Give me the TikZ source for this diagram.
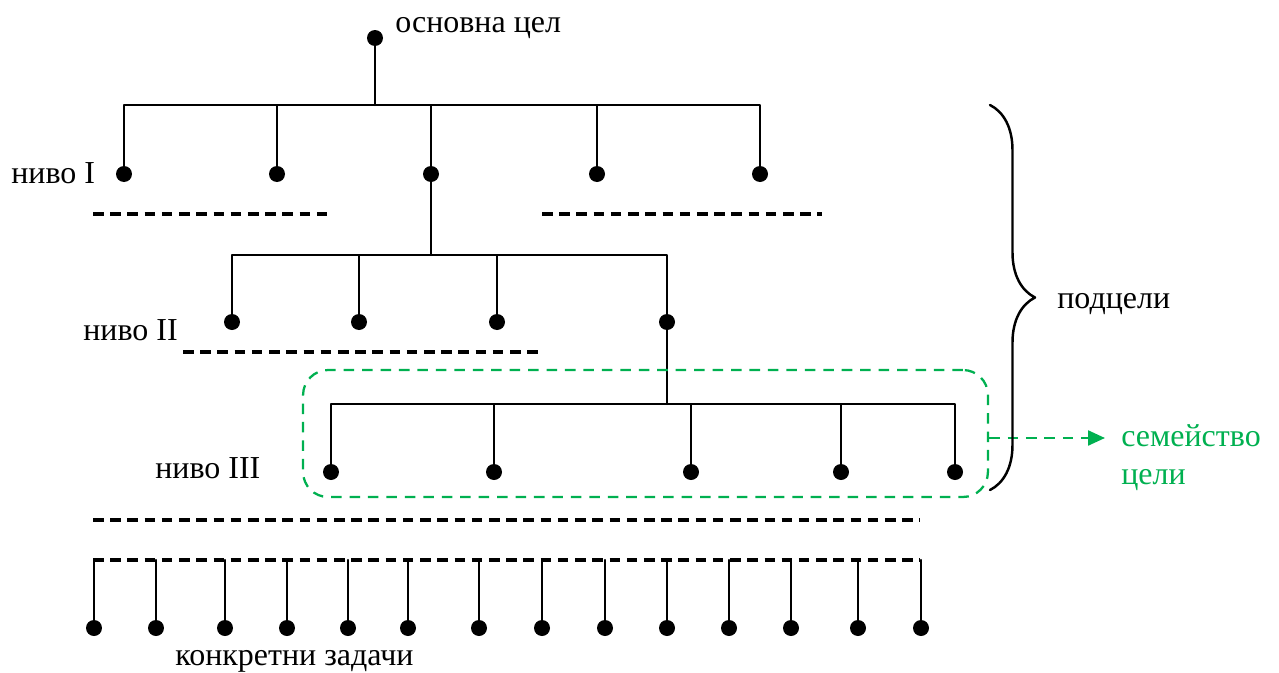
\documentclass[tikz,border=0pt]{standalone}
\usepackage{fontspec}
\setmainfont{Liberation Serif}
\usepackage{tikz}
\usetikzlibrary{arrows.meta,decorations.pathreplacing}
\definecolor{famgreen}{RGB}{0,176,80}

\begin{document}
\begin{tikzpicture}[line cap=round,line join=round,>={Triangle[length=0.34cm,width=0.3cm]},x=0.02cm,y=-0.02cm,
        goal/.style={circle,fill=black,inner sep=0pt,minimum size=0.32cm},
        tree/.style={line width=1.4pt},
        sep/.style={line width=1.9pt,line cap=butt,dash pattern=on 6pt off 3.8pt},
        famline/.style={famgreen,line width=1.3pt,line cap=butt,dash pattern=on 6pt off 4.5pt},
        lbl/.style={font=\fontsize{18.2}{21.6}\selectfont,inner sep=0pt,anchor=base west}]
        \useasboundingbox (0,0) rectangle (1279,673);
        % main goal
        \node[goal] (r) at (375,38) {};
        \node[lbl] (rtxt) at (395,32) {основна цел};
        \coordinate (b1) at (375,105);
        % level I
        \node[goal] (a1) at (124,174) {};
        \node[goal] (a2) at (277,174) {};
        \node[goal] (a3) at (431,174) {};
        \node[goal] (a4) at (597,174) {};
        \node[goal] (a5) at (760,174) {};
        \node[lbl] (lvl1) at (11,183) {ниво I};
        \draw [tree] (r) -- (b1);
        \draw [tree] (a1) |- (b1);
        \draw [tree] (a2) |- (b1);
        \draw [tree] (a3) |- (b1);
        \draw [tree] (a4) |- (b1);
        \draw [tree] (a5) |- (b1);
        \draw [sep] (93,214)-- (330,214);
        \draw [sep] (542,214)-- (822,214);
        % level II
        \coordinate (b2) at (431,255);
        \node[goal] (c1) at (232,322) {};
        \node[goal] (c2) at (359,322) {};
        \node[goal] (c3) at (497,322) {};
        \node[goal] (c4) at (667,322) {};
        \node[lbl] (lvl2) at (83,340) {ниво II};
        \draw [tree] (a3) -- (b2);
        \draw [tree] (c1) |- (b2);
        \draw [tree] (c2) |- (b2);
        \draw [tree] (c3) |- (b2);
        \draw [tree] (c4) |- (b2);
        \draw [sep] (183,352)-- (540,352);
        % level III
        \coordinate (b3) at (667,404);
        \node[goal] (d1) at (331,472) {};
        \node[goal] (d2) at (494,472) {};
        \node[goal] (d3) at (691,472) {};
        \node[goal] (d4) at (841,472) {};
        \node[goal] (d5) at (955,472) {};
        \node[lbl] (lvl3) at (155,478) {ниво III};
        \draw [tree] (c4) -- (b3);
        \draw [tree] (d1) |- (b3);
        \draw [tree] (d2) |- (b3);
        \draw [tree] (d3) |- (b3);
        \draw [tree] (d4) |- (b3);
        \draw [tree] (d5) |- (b3);
        \draw [sep] (93,520)-- (920,520);
        % family of goals
        \node[famline,draw,rounded corners=0.5cm,minimum width=13.7cm,minimum height=2.54cm,inner sep=0pt] (fam) at (645.5,433.5) {};
        \coordinate (famend) at (1105,438);
        \draw [famline,->] (fam.east |- famend) -- (famend);
        \node[lbl,text=famgreen,align=left,anchor=north west] (famtxt) at (1121,424) {семейство\\цели};
        % subgoals
        \draw [tree,decorate,decoration={brace,amplitude=0.9cm}] (990,105) -- (990,490);
        \node[lbl] (sub) at (1057,308) {подцели};
        % concrete tasks
        \coordinate (tb) at (500,560);
        \draw [sep] (93,560)-- (920,560);
        \node[goal] (t1) at (94,628) {};
        \node[goal] (t2) at (156,628) {};
        \node[goal] (t3) at (225,628) {};
        \node[goal] (t4) at (287,628) {};
        \node[goal] (t5) at (348,628) {};
        \node[goal] (t6) at (408,628) {};
        \node[goal] (t7) at (479,628) {};
        \node[goal] (t8) at (542,628) {};
        \node[goal] (t9) at (605,628) {};
        \node[goal] (t10) at (667,628) {};
        \node[goal] (t11) at (729,628) {};
        \node[goal] (t12) at (791,628) {};
        \node[goal] (t13) at (858,628) {};
        \node[goal] (t14) at (921,628) {};
        \draw [tree] (t1) -- (t1 |- tb);
        \draw [tree] (t2) -- (t2 |- tb);
        \draw [tree] (t3) -- (t3 |- tb);
        \draw [tree] (t4) -- (t4 |- tb);
        \draw [tree] (t5) -- (t5 |- tb);
        \draw [tree] (t6) -- (t6 |- tb);
        \draw [tree] (t7) -- (t7 |- tb);
        \draw [tree] (t8) -- (t8 |- tb);
        \draw [tree] (t9) -- (t9 |- tb);
        \draw [tree] (t10) -- (t10 |- tb);
        \draw [tree] (t11) -- (t11 |- tb);
        \draw [tree] (t12) -- (t12 |- tb);
        \draw [tree] (t13) -- (t13 |- tb);
        \draw [tree] (t14) -- (t14 |- tb);
        \node[lbl] (tasks) at (175,665) {конкретни задачи};
    \end{tikzpicture}
\end{document}
